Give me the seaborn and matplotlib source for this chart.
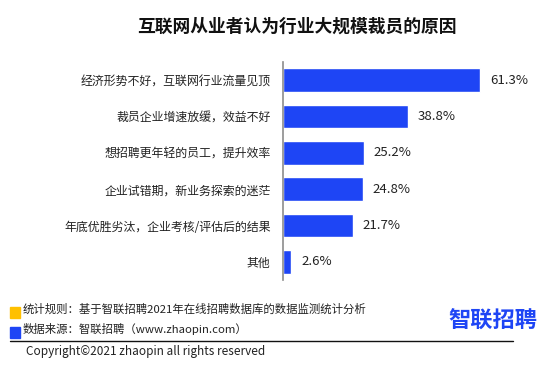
import matplotlib
matplotlib.use("Agg")
import matplotlib.pyplot as plt
import seaborn as sns
import pandas as pd
import numpy as np
from matplotlib.patches import Rectangle
from matplotlib.lines import Line2D

categories = ["经济形势不好，互联网行业流量见顶", "裁员企业增速放缓，效益不好", "想招聘更年轻的员工，提升效率",
              "企业试错期，新业务探索的迷茫", "年底优胜劣汰，企业考核/评估后的结果", "其他"]
values = [61.3, 38.8, 25.2, 24.8, 21.7, 2.6]
value_labels = ["61.3%", "38.8%", "25.2%", "24.8%", "21.7%", "2.6%"]

sns.set_style("white")
plt.rcParams['font.family'] = ['Noto Sans CJK SC', 'DejaVu Sans']

BLUE = "#1E45F5"
W, H = 554, 368
fig = plt.figure(figsize=(W / 100, H / 100), dpi=100)
ax = fig.add_axes([283 / W, 1 - 280 / H, 225 / W, 218 / H])

df = pd.DataFrame({"cat": categories, "val": values})
sns.barplot(data=df, y="cat", x="val", color=BLUE, saturation=1, width=0.65, ax=ax)
ax.set_xlim(0, 70)
ax.set_ylim(5.5, -0.5)
ax.set_xlabel("")
ax.set_ylabel("")
ax.set_xticks([])
for s in ["top", "right", "bottom"]:
    ax.spines[s].set_visible(False)
ax.spines["left"].set_color("#8c8c8c")
ax.spines["left"].set_linewidth(1.2)
ax.tick_params(axis="y", which="major", length=0, pad=9, labelsize=8.6, labelcolor="#222222")
ax.set_yticks(np.arange(-0.5, 6, 1), minor=True)
ax.tick_params(axis="y", which="minor", length=4, color="#8c8c8c", width=1.2)

for i, (v, lab) in enumerate(zip(values, value_labels)):
    ax.annotate(lab, (v, i), xytext=(7, 0), textcoords="offset points", va="center", ha="left",
                fontsize=9.5, color="#222222")

fig.text(297 / W, 1 - 27 / H, "互联网从业者认为行业大规模裁员的原因", ha="center", va="center",
         fontsize=12.8, fontweight="bold", color="#111111")

# footer
fig.patches.append(Rectangle((10 / W, 1 - 318 / H), 10 / W, 11 / H, transform=fig.transFigure,
                             color="#FFC000", zorder=5))
fig.patches.append(Rectangle((10 / W, 1 - 338 / H), 10 / W, 11 / H, transform=fig.transFigure,
                             color=BLUE, zorder=5))
fig.text(23 / W, 1 - 309 / H, "统计规则：基于智联招聘2021年在线招聘数据库的数据监测统计分析", ha="left",
         va="center", fontsize=8.2, color="#222222")
fig.text(23 / W, 1 - 329 / H, "数据来源：智联招聘（www.zhaopin.com）", ha="left",
         va="center", fontsize=8.2, color="#222222")
fig.lines.append(Line2D([10 / W, 513 / W], [1 - 341 / H, 1 - 341 / H], transform=fig.transFigure,
                        color="#111111", linewidth=1))
fig.text(26 / W, 1 - 351 / H, "Copyright©2021 zhaopin all rights reserved", ha="left",
         va="center", fontsize=8.5, color="#222222")
fig.text(493 / W, 1 - 321 / H, "智联招聘", ha="center", va="center", fontsize=16,
         fontweight="bold", color=BLUE)

fig.savefig("out.png", dpi=100)
